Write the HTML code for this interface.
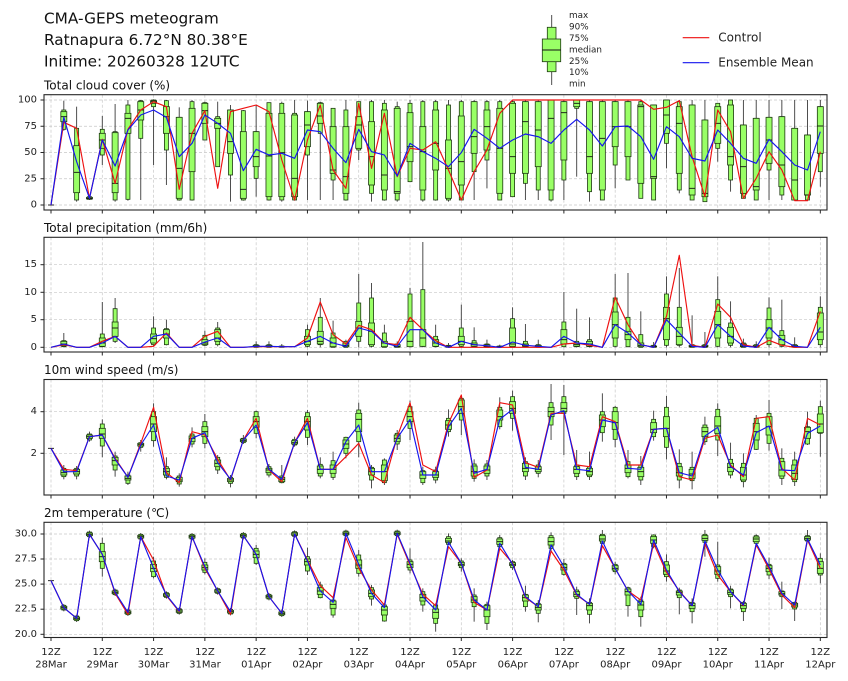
<!DOCTYPE html>
<html><head><meta charset="utf-8">
<style>
html,body{margin:0;padding:0;background:#fff;}
svg{display:block;font-family:"DejaVu Sans","Liberation Sans",sans-serif;}
.g{stroke:#c8c8c8;stroke-width:0.7;stroke-dasharray:3,2;fill:none;}
.w{stroke:#3a3a3a;stroke-width:0.9;}
.b{fill:#99ff66;stroke:#1e3a12;stroke-width:0.8;}
.m{stroke:#111;stroke-width:0.9;}
.r{fill:none;stroke:#ee1111;stroke-width:1.15;stroke-linejoin:round;}
.bl{fill:none;stroke:#1515ee;stroke-width:1.15;stroke-linejoin:round;}
.f{fill:none;stroke:#262626;stroke-width:1.1;}
.t{stroke:#262626;stroke-width:1;}
.yl{font-size:10px;fill:#222;text-anchor:end;dominant-baseline:central;}
.xl{font-size:10px;fill:#222;text-anchor:middle;}
.at{font-size:12px;fill:#111;}
.tt{font-size:15.3px;fill:#111;}
.lg{font-size:8.8px;fill:#222;}
.lg2{font-size:12px;fill:#222;dominant-baseline:central;}
</style></head><body>
<svg id="c" width="848" height="681" viewBox="0 0 848 681" xmlns="http://www.w3.org/2000/svg">
<rect x="0" y="0" width="848" height="681" fill="#fff"/>
<text class="tt" x="44" y="23.3">CMA-GEPS meteogram</text>
<text class="tt" x="44" y="45">Ratnapura 6.72°N 80.38°E</text>
<text class="tt" x="44" y="66.3">Initime: 20260328 12UTC</text>

<!-- box legend -->
<line x1="551.7" y1="15" x2="551.7" y2="85" class="w"/>
<rect x="547.3" y="27.3" width="8.7" height="44.4" class="b"/>
<rect x="542.3" y="39" width="18.4" height="22.7" class="b"/>
<line x1="542.3" y1="50" x2="560.7" y2="50" class="m"/>
<text class="lg" x="569" y="18.2">max</text>
<text class="lg" x="569" y="29.6">90%</text>
<text class="lg" x="569" y="41">75%</text>
<text class="lg" x="569" y="52.4">median</text>
<text class="lg" x="569" y="63.8">25%</text>
<text class="lg" x="569" y="75.2">10%</text>
<text class="lg" x="569" y="86.6">min</text>

<line x1="682.7" y1="37.7" x2="709.3" y2="37.7" class="r"/>
<text class="lg2" x="718.3" y="37.7">Control</text>
<line x1="682.7" y1="62.7" x2="709.3" y2="62.7" class="bl"/>
<text class="lg2" x="718.3" y="62.7">Ensemble Mean</text>

<text class="at" x="44" y="89.5">Total cloud cover (%)</text>
<text class="at" x="44" y="232">Total precipitation (mm/6h)</text>
<text class="at" x="44" y="374.2">10m wind speed (m/s)</text>
<text class="at" x="44" y="517.2">2m temperature (℃)</text>

<g id="dyn"></g>

<!-- y tick labels -->
<text class="yl" x="37" y="205">0</text>
<text class="yl" x="37" y="178.75">25</text>
<text class="yl" x="37" y="152.5">50</text>
<text class="yl" x="37" y="126.25">75</text>
<text class="yl" x="37" y="100">100</text>

<text class="yl" x="37" y="347.3">0</text>
<text class="yl" x="37" y="319.7">5</text>
<text class="yl" x="37" y="292.3">10</text>
<text class="yl" x="37" y="264.7">15</text>

<text class="yl" x="37" y="453.3">2</text>
<text class="yl" x="37" y="411.7">4</text>

<text class="yl" x="37" y="634.3">20.0</text>
<text class="yl" x="37" y="609.2">22.5</text>
<text class="yl" x="37" y="584.1">25.0</text>
<text class="yl" x="37" y="559">27.5</text>
<text class="yl" x="37" y="534">30.0</text>

<!-- x tick labels -->
<g id="xl">
<text class="xl" x="51" y="655">12Z</text><text class="xl" x="51" y="667.5">28Mar</text>
<text class="xl" x="102.3" y="655">12Z</text><text class="xl" x="102.3" y="667.5">29Mar</text>
<text class="xl" x="153.6" y="655">12Z</text><text class="xl" x="153.6" y="667.5">30Mar</text>
<text class="xl" x="204.9" y="655">12Z</text><text class="xl" x="204.9" y="667.5">31Mar</text>
<text class="xl" x="256.2" y="655">12Z</text><text class="xl" x="256.2" y="667.5">01Apr</text>
<text class="xl" x="307.4" y="655">12Z</text><text class="xl" x="307.4" y="667.5">02Apr</text>
<text class="xl" x="358.7" y="655">12Z</text><text class="xl" x="358.7" y="667.5">03Apr</text>
<text class="xl" x="410" y="655">12Z</text><text class="xl" x="410" y="667.5">04Apr</text>
<text class="xl" x="461.3" y="655">12Z</text><text class="xl" x="461.3" y="667.5">05Apr</text>
<text class="xl" x="512.6" y="655">12Z</text><text class="xl" x="512.6" y="667.5">06Apr</text>
<text class="xl" x="563.9" y="655">12Z</text><text class="xl" x="563.9" y="667.5">07Apr</text>
<text class="xl" x="615.2" y="655">12Z</text><text class="xl" x="615.2" y="667.5">08Apr</text>
<text class="xl" x="666.5" y="655">12Z</text><text class="xl" x="666.5" y="667.5">09Apr</text>
<text class="xl" x="717.7" y="655">12Z</text><text class="xl" x="717.7" y="667.5">10Apr</text>
<text class="xl" x="769" y="655">12Z</text><text class="xl" x="769" y="667.5">11Apr</text>
<text class="xl" x="820.3" y="655">12Z</text><text class="xl" x="820.3" y="667.5">12Apr</text>
</g>
</svg>
<script>
(function(){
const X0=51, DX=12.822, XL=44, XR=827;
function px(i){return X0+DX*i;}

const P1box=[
[345,345,345,345,345,345,345],[32,60,65,80,95,118,122],[50,115,167,247,308,330,335],[318,320,322,325,327,328,330],
[78,118,130,150,175,195,225],[42,125,128,280,308,330,335],[30,45,70,85,130,328,332],[30,32,35,60,90,145,330],
[28,30,32,35,40,50,225],[30,32,50,80,130,180,285],[52,82,82,235,325,330,332],[30,35,55,130,245,330,332],
[35,38,40,62,100,150,150],[35,80,85,100,115,230,230],[45,60,60,155,190,255,335],[60,62,125,298,325,330,332],
[45,125,125,200,230,265,320],[38,38,70,198,320,330,332],[35,40,70,188,320,330,335],[30,70,75,265,320,330,332],
[32,65,65,105,170,195,330],[35,38,40,78,100,130,330],[55,55,110,240,250,270,330],[30,60,110,260,310,330,332],
[35,35,80,105,175,180,210],[30,35,95,200,285,310,335],[30,40,60,255,300,330,332],[35,50,55,305,310,330,335],
[30,40,68,170,215,275,275],[30,35,110,185,300,330,335],[30,35,60,160,240,330,332],[30,45,150,235,325,330,335],
[30,35,78,215,285,330,330],[30,35,35,140,190,245,330],[30,35,60,110,180,210,295],[30,35,55,175,310,330,330],
[30,35,40,200,250,320,320],[30,35,35,95,250,280,330],[30,35,35,120,230,300,330],[30,30,30,85,300,330,335],
[30,35,35,68,210,270,330],[30,30,30,40,50,55,260],[30,35,35,200,250,305,335],[30,35,35,145,300,330,330],
[30,35,35,110,170,225,295],[30,35,35,110,200,270,270],[30,35,45,50,280,325,325],[45,45,45,260,265,330,330],
[30,30,30,75,130,160,235],[30,35,50,100,250,300,310],[30,45,45,295,315,330,330],[30,90,90,310,320,335,335],
[40,40,50,100,160,175,215],[30,30,45,200,225,270,305],[30,105,105,230,310,325,325],[30,85,85,290,300,330,330],
[30,82,82,150,220,240,330],[30,80,80,225,290,315,330],[30,115,115,270,330,330,330],[30,135,135,315,315,330,330],
[30,50,50,108,190,245,290]];
const P1red=[345,97,115,325,148,280,118,60,35,50,298,130,62,295,65,55,45,65,210,330,150,45,240,295,40,235,70,260,175,180,155,240,330,245,180,70,30,30,30,30,30,30,30,30,30,30,30,58,52,32,200,320,60,125,325,265,185,240,332,332,185];
const P1blue=[345,82,215,325,150,228,120,75,60,82,200,160,75,100,130,242,178,195,190,205,120,125,175,218,118,185,195,258,160,185,205,230,188,118,145,175,150,132,140,160,120,88,120,168,110,108,140,208,110,140,205,213,120,160,205,220,148,185,225,240,125];

const P2b={1:[315,338,340,348,354,356,358],4:[222,318,330,345,355,356,358],5:[210,242,282,300,325,340,345],
8:[265,300,318,332,345,350,355],9:[275,302,305,318,330,350,352],12:[308,322,335,345,350,352,355],13:[282,300,305,330,340,350,355],
16:[340,350,352,355,357,358,358],17:[340,350,352,355,357,358,358],18:[348,354,355,356,357,358,358],
20:[290,305,325,340,350,355,358],21:[210,268,310,340,348,350,358],22:[278,315,330,345,356,358,358],23:[335,340,345,352,356,358,358],
24:[138,225,280,300,325,340,358],25:[165,210,285,310,350,355,358],26:[290,315,340,345,356,358,358],27:[340,348,350,355,357,358,358],
28:[180,198,280,340,356,356,358],29:[42,185,305,330,355,355,358],30:[290,325,335,345,355,356,358],31:[345,352,354,356,357,358,358],
32:[230,300,325,340,350,355,358],33:[298,338,345,350,355,356,358],34:[335,348,350,354,356,358,358],35:[350,354,355,356,357,358,358],
36:[238,272,300,348,355,358,358],37:[288,340,348,352,355,356,358],38:[335,350,352,355,357,358,358],
40:[192,282,305,335,348,356,358],41:[242,340,345,350,355,356,358],42:[268,335,340,348,355,356,358],
44:[138,210,252,290,330,355,358],45:[135,268,310,320,335,356,358],46:[250,320,345,352,356,358,358],47:[342,352,354,356,357,358,358],
48:[145,198,238,272,335,352,358],49:[120,238,298,325,350,352,358],50:[262,350,352,355,357,358,358],51:[312,350,352,355,357,358,358],
52:[145,215,250,290,330,355,358],53:[220,285,298,325,345,352,358],54:[332,345,348,354,356,358,358],55:[340,350,352,355,357,358,358],
56:[208,240,275,300,330,350,358],57:[215,308,322,335,350,355,358],58:[328,350,352,355,357,358,358],60:[205,238,255,312,335,350,358]};
const P2red=[358,350,358,358,340,325,358,358,355,315,358,358,325,310,358,358,356,356,356,356,330,222,320,348,292,305,345,350,268,305,338,358,358,358,358,358,358,358,358,358,348,345,352,358,208,290,350,358,265,82,352,358,228,268,350,358,337,352,358,358,250];
const P2blue=[358,348,358,358,345,325,358,358,325,318,358,358,342,330,358,358,355,355,356,356,340,325,345,355,300,310,345,355,305,305,345,358,340,350,353,358,342,352,355,358,325,345,348,358,290,315,350,358,275,315,355,358,290,325,354,358,298,335,355,358,298];

const P3box=[
[235,235,235,235,235,235,235],[285,295,300,308,315,320,328],[288,295,298,305,312,318,328],[185,192,195,200,205,210,215],
[148,162,175,192,205,228,262],[245,258,262,272,285,300,320],[305,315,318,325,330,340,345],[210,218,220,224,228,232,245],
[100,125,140,162,185,212,230],[262,290,295,305,315,322,328],[310,318,322,330,335,342,350],[172,192,198,205,215,222,232],
[132,155,170,185,200,220,235],[255,262,270,280,290,300,312],[315,322,325,330,335,340,352],[195,205,207,211,215,218,222],
[122,125,140,155,172,190,205],[282,290,295,300,308,315,322],[285,318,322,328,335,338,340],[200,208,212,218,222,225,230],
[120,128,140,155,180,202,225],[262,283,288,298,310,318,325],[245,272,285,298,310,322,330],[200,202,210,222,235,250,265],
[98,120,130,148,185,215,262],[285,292,295,305,315,330,355],[265,270,285,305,332,338,345],[180,190,195,205,215,222,240],
[92,110,125,140,155,175,210],[290,302,305,315,325,338,345],[290,300,305,315,322,330,340],[118,145,152,165,178,185,200],
[78,85,90,110,130,150,195],[268,282,288,305,318,325,335],[270,282,288,300,310,318,330],[82,112,120,140,150,170,178],
[62,80,95,115,130,145,182],[262,275,280,295,305,318,330],[270,285,290,298,305,310,322],[42,98,112,125,140,165,210],
[45,80,98,115,125,130,255],[240,285,290,298,310,320,330],[245,290,295,305,315,320,330],[70,125,135,150,170,188,215],
[108,112,125,158,178,208,232],[240,275,285,295,308,320,325],[258,285,292,305,320,330,345],[122,148,158,178,188,200,212],
[78,112,140,175,200,232,268],[238,280,290,308,318,330,355],[245,292,298,312,325,332,358],[140,165,172,185,200,215,225],
[100,118,140,168,190,210,258],[218,268,280,292,305,315,325],[250,280,292,315,330,335,352],[135,145,160,185,210,238,240],
[90,130,140,170,195,220,242],[235,265,275,300,318,325,345],[245,270,285,310,328,335,348],[125,170,172,185,205,222,225],
[92,110,132,162,188,190,260]];
const P3blue=[235,305,305,200,195,268,322,225,165,318,330,205,188,278,328,210,165,298,328,218,158,298,298,215,165,305,305,205,148,315,315,170,115,310,298,148,118,292,298,135,122,298,302,150,158,295,298,178,175,308,318,198,172,290,315,188,168,300,302,190,168];
const P3red=[235,298,302,200,195,265,322,220,112,308,338,185,195,268,330,210,145,300,335,218,145,298,298,260,220,315,338,200,98,285,305,160,75,322,300,98,105,278,292,130,130,285,290,140,155,285,285,178,175,320,330,205,195,285,320,145,140,295,330,145,165];

const P4blue=[197,278,310,58,118,232,292,65,160,240,288,65,155,228,290,62,118,245,295,57,138,228,262,55,148,235,278,55,145,245,285,82,145,255,285,85,148,245,275,90,155,238,268,78,160,228,268,75,165,230,272,78,165,230,270,85,155,235,270,72,150];
const P4red=[197,278,310,58,118,235,298,65,135,242,290,65,160,228,298,62,118,245,295,57,135,212,248,68,160,225,270,58,150,238,272,95,145,262,285,100,145,248,275,108,165,240,268,92,160,228,255,85,172,228,272,85,180,230,272,90,162,240,278,75,160];
const P4b={0:[197,197,197,197,197,197,197],4:[68,85,110,125,140,160,185],8:[125,138,148,160,170,185,190],12:[130,142,150,158,165,172,178],
16:[90,100,108,118,128,145,150],20:[98,125,132,140,150,168,180],21:[200,210,218,228,238,248,250],22:[245,255,258,268,280,300,308],
24:[105,120,135,150,160,175,185],25:[210,218,225,235,245,252,272],26:[265,270,275,285,300,318,320],28:[100,135,140,148,158,165,175],
29:[220,230,238,248,258,270,290],30:[265,270,282,292,310,325,350],31:[55,65,70,78,82,88,90],32:[130,138,142,148,152,158,170],
33:[220,240,245,255,262,275,320],34:[260,268,272,285,305,325,345],35:[60,68,72,80,88,95,100],36:[135,140,143,148,152,158,165],
37:[212,238,240,248,258,275,290],38:[255,265,268,278,285,295,322],39:[52,62,68,80,90,100,110],40:[132,145,148,158,165,178,182],
41:[215,225,230,238,245,250,300],42:[250,262,265,272,285,298,325],43:[45,58,62,72,78,85,88],44:[140,148,152,160,165,170,178],
45:[215,218,222,230,240,272,305],46:[245,255,260,270,285,305,335],47:[58,60,65,75,85,95,100],48:[118,140,150,168,178,185,200],
49:[218,225,228,232,240,248,298],50:[250,262,265,272,280,290,325],51:[45,58,62,70,76,82,125],52:[80,150,155,168,178,190,200],
53:[212,222,225,232,238,245,280],54:[258,262,265,272,280,290,318],55:[58,62,66,72,80,85,90],56:[128,148,152,160,170,180,192],
57:[200,228,230,236,240,245,282],58:[260,262,265,270,276,282,318],59:[45,62,65,70,75,78,80],60:[115,130,140,160,175,180,205]};
const P4box=[];
for(let i=0;i<=60;i++){ if(P4b[i]) P4box.push(P4b[i]); else {const b=P4blue[i]; P4box.push([b-11,b-7,b-4,b,b+4,b+7,b+11]);} }
const P2box=[]; for(let i=0;i<=60;i++) P2box.push(P2b[i]||null);

const P=[
 {off:90, top:94.7, bot:210, yt:[205,178.75,152.5,126.25,100], box:P1box, red:P1red, blue:P1blue},
 {off:228, top:237.3, bot:352, yt:[347.3,319.7,292.3,264.7], box:P2box, red:P2red, blue:P2blue},
 {off:370, top:379.5, bot:495, yt:[453.3,411.7], box:P3box, red:P3red, blue:P3blue},
 {off:515, top:522.3, bot:637.5, yt:[634.3,609.2,584.1,559,534], box:P4box, red:P4red, blue:P4blue}
];
let s='';
const f=v=>(+v).toFixed(2);
P.forEach(p=>{
  const Y=z=>p.off+z/3;
  for(let d=0;d<=15;d++){const x=f(px(4*d)); s+='<line x1="'+x+'" y1="'+p.top+'" x2="'+x+'" y2="'+p.bot+'" class="g"/>';}
  p.yt.forEach(y=>{s+='<line x1="'+XL+'" y1="'+y+'" x2="'+XR+'" y2="'+y+'" class="g"/>';});
  for(let i=0;i<=60;i++){
    const b=p.box[i]; if(!b) continue;
    const x=px(i); const v=b.map(Y);
    if(v[6]>v[0]) s+='<line x1="'+f(x)+'" y1="'+f(v[0])+'" x2="'+f(x)+'" y2="'+f(v[6])+'" class="w"/>';
    const h1=v[5]-v[1]; if(h1>0.2) s+='<rect x="'+f(x-2)+'" y="'+f(v[1])+'" width="4" height="'+f(h1)+'" class="b"/>';
    const h2=v[4]-v[2]; if(h2>0.2) s+='<rect x="'+f(x-3)+'" y="'+f(v[2])+'" width="6" height="'+f(h2)+'" class="b"/>';
    s+='<line x1="'+f(x-3)+'" y1="'+f(v[3])+'" x2="'+f(x+3)+'" y2="'+f(v[3])+'" class="m"/>';
  }
  const pts=a=>a.map((z,i)=>f(px(i))+','+f(Y(z))).join(' ');
  s+='<polyline points="'+pts(p.red)+'" class="r"/>';
  s+='<polyline points="'+pts(p.blue)+'" class="bl"/>';
  s+='<rect x="'+XL+'" y="'+p.top+'" width="'+(XR-XL)+'" height="'+f(p.bot-p.top)+'" class="f"/>';
  for(let d=0;d<=15;d++){const x=f(px(4*d)); s+='<line x1="'+x+'" y1="'+p.bot+'" x2="'+x+'" y2="'+f(p.bot+3.5)+'" class="t"/>';}
  p.yt.forEach(y=>{s+='<line x1="'+(XL-3.5)+'" y1="'+y+'" x2="'+XL+'" y2="'+y+'" class="t"/>';});
});
document.getElementById('dyn').innerHTML=s;
})();
</script>
</body></html>
